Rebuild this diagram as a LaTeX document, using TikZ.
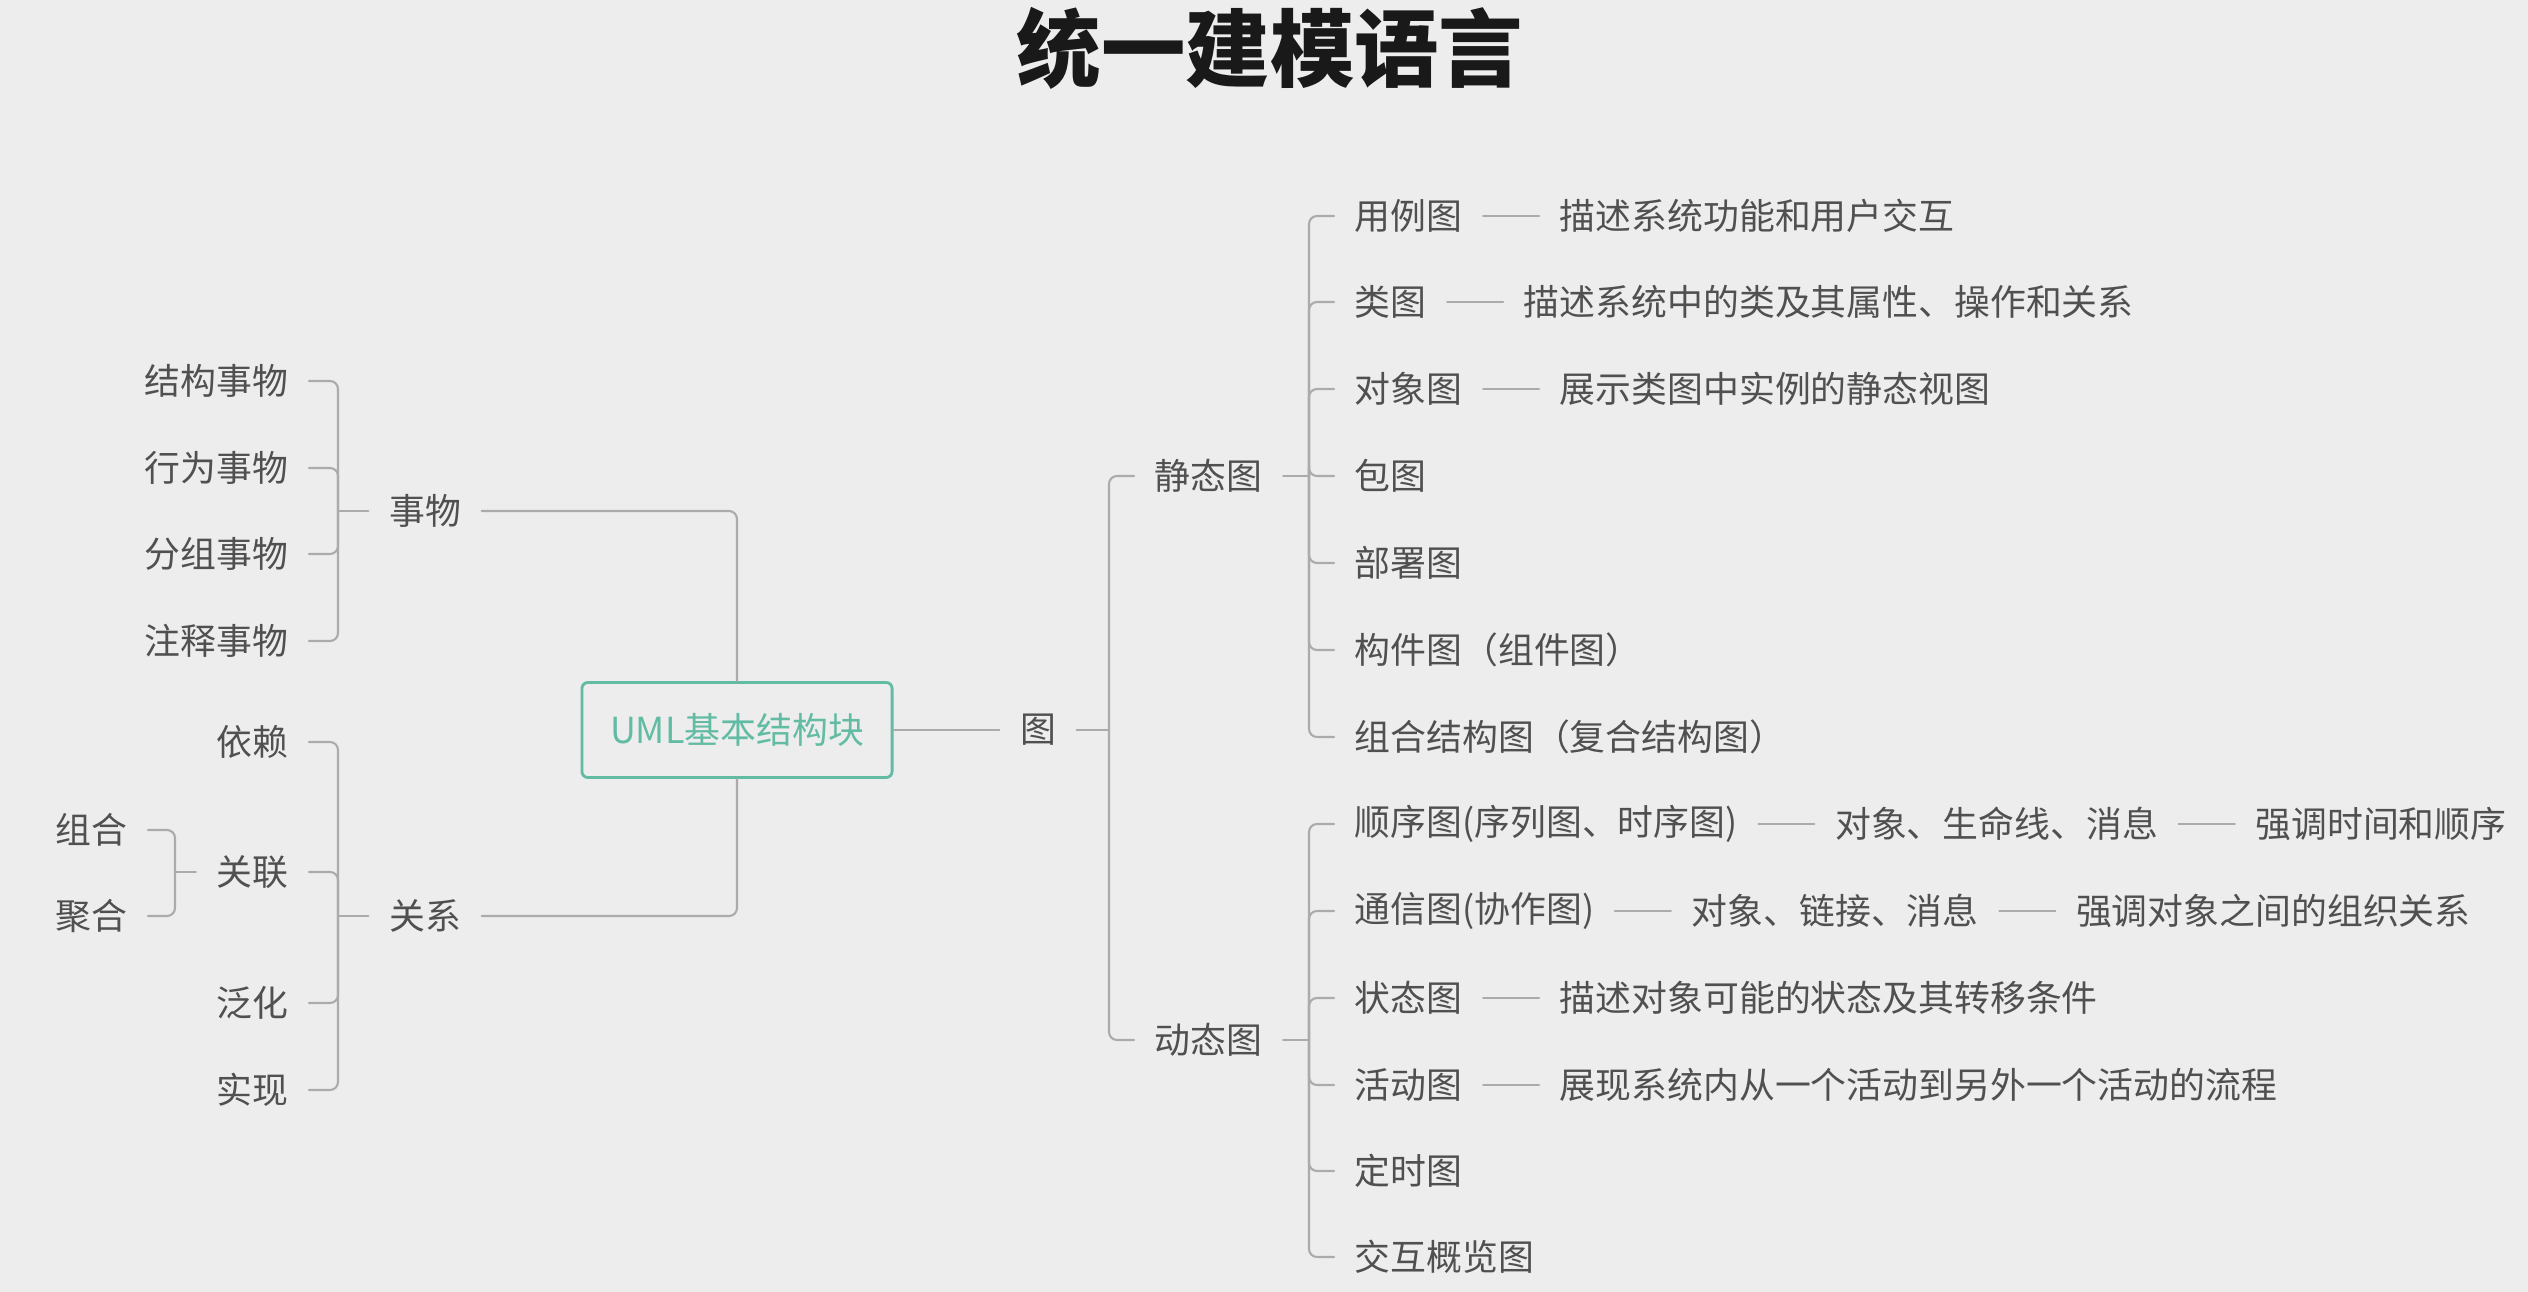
\documentclass[tikz,border=0pt]{standalone}
\usepackage{fontspec}
\setmainfont{Noto Sans CJK SC}
\usetikzlibrary{positioning}
\definecolor{bgcolor}{HTML}{EDEDED}
\definecolor{textgray}{HTML}{505050}
\definecolor{linkgray}{HTML}{ABABAB}
\definecolor{umlteal}{HTML}{62BBA3}

\tikzset{
  leaf/.style={text=textgray,font=\fontsize{10.2}{12}\selectfont,inner xsep=0.2cm,inner ysep=0.1cm},
  link/.style={draw=linkgray,line width=0.6pt,rounded corners=0.08cm},
}

\begin{document}
\begin{tikzpicture}[x=0.01cm,y=-0.01cm,line cap=round,line join=round]
  \fill[bgcolor] (0,0) rectangle (2528,1292);
  \useasboundingbox (0,0) rectangle (2528,1292);
  \node[font=\fontsize{24}{28}\selectfont\bfseries,text=black!90] (title) at (1270,48) {统一建模语言};
  % central block
  \node[draw=umlteal,line width=0.8pt,rounded corners=0.06cm,fill=bgcolor,text=umlteal,
        font=\fontsize{10.2}{12}\selectfont,minimum width=3.1cm,minimum height=0.95cm] (uml) at (737,730) {UML基本结构块};
  % things
  \node[leaf] (sw) at (425,511) {事物};
  \draw[link] (uml.north) |- (sw.east);
  \coordinate (swspine) at (338,511);
  \draw[link] (sw.west) -- (swspine);
  \foreach \name/\y/\txt in {jg/381/结构事物,xw/468/行为事物,fz/554/分组事物,zs/641/注释事物}{
    \node[leaf,anchor=east] (\name) at (309,\y) {\txt};
    \draw[link] (\name.east) -| (swspine);
  }
  % relations
  \node[leaf] (gx) at (425,916) {关系};
  \draw[link] (uml.south) |- (gx.east);
  \coordinate (gxspine) at (338,916);
  \draw[link] (gx.west) -- (gxspine);
  \foreach \name/\y/\txt in {yl/742/依赖,gl/872/关联,fh/1003/泛化,sx/1090/实现}{
    \node[leaf,anchor=east] (\name) at (309,\y) {\txt};
    \draw[link] (\name.east) -| (gxspine);
  }
  \coordinate (glspine) at (175,872);
  \draw[link] (gl.west) -- (glspine);
  \foreach \name/\y/\txt in {zuhe/830/组合,juhe/916/聚合}{
    \node[leaf,anchor=east] (\name) at (148,\y) {\txt};
    \draw[link] (\name.east) -| (glspine);
  }
  % diagrams
  \node[leaf] (tu) at (1038,730) {图};
  \draw[link] (uml.east) -- (tu.west);
  \coordinate (tuspine) at (1109,730);
  \node[leaf,anchor=west] (jt) at (1134,476) {静态图};
  \node[leaf,anchor=west] (dt) at (1134,1040) {动态图};
  \draw[link] (tu.east) -- (tuspine);
  \draw[link] (jt.west) -| (tuspine);
  \draw[link] (dt.west) -| (tuspine);
  % static diagrams
  \coordinate (jtspine) at (1309,476);
  \draw[link] (jt.east) -- (jtspine);
  \foreach \name/\y/\txt in {yli/216/用例图,lei/302/类图,dx/389/对象图,bao/476/包图,
                             bs/563/部署图,gj/650/构件图（组件图）,zhjg/737/组合结构图（复合结构图）}{
    \node[leaf,anchor=west] (\name) at (1334,\y) {\txt};
    \draw[link] (\name.west) -| (jtspine);
  }
  % dynamic diagrams
  \coordinate (dtspine) at (1309,1040);
  \draw[link] (dt.east) -- (dtspine);
  \foreach \name/\y/\txt in {sxt/824/顺序图(序列图、时序图),tx/911/通信图(协作图),zt/998/状态图,
                             hd/1085/活动图,ds/1171/定时图,jh/1257/交互概览图}{
    \node[leaf,anchor=west] (\name) at (1334,\y) {\txt};
    \draw[link] (\name.west) -| (dtspine);
  }
  % descriptions
  \node[leaf,right=0.56cm of yli] (ylid) {描述系统功能和用户交互};
  \node[leaf,right=0.56cm of lei] (leid) {描述系统中的类及其属性、操作和关系};
  \node[leaf,right=0.56cm of dx] (dxd) {展示类图中实例的静态视图};
  \node[leaf,right=0.56cm of sxt] (sxta) {对象、生命线、消息};
  \node[leaf,right=0.56cm of sxta] (sxtb) {强调时间和顺序};
  \node[leaf,right=0.56cm of tx] (txa) {对象、链接、消息};
  \node[leaf,right=0.56cm of txa] (txb) {强调对象之间的组织关系};
  \node[leaf,right=0.56cm of zt] (ztd) {描述对象可能的状态及其转移条件};
  \node[leaf,right=0.56cm of hd] (hdd) {展现系统内从一个活动到另外一个活动的流程};
  \foreach \a/\b in {yli/ylid,lei/leid,dx/dxd,sxt/sxta,sxta/sxtb,tx/txa,txa/txb,zt/ztd,hd/hdd}{
    \draw[link] (\a.east) -- (\b.west);
  }
\end{tikzpicture}
\end{document}
